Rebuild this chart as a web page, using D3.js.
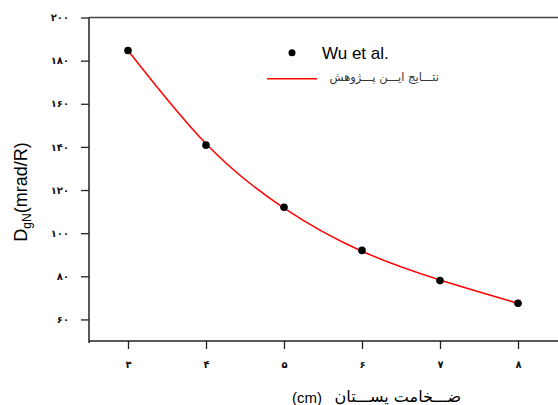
<!DOCTYPE html>
<html>
<head>
<meta charset="utf-8">
<script src="https://cdn.jsdelivr.net/npm/d3@7"></script>
<style>
  body { margin: 0; background: #fff; }
  svg { display: block; }
</style>
</head>
<body>
<div id="drawing_region"></div>
<script>
// thickness (cm) and dose values
const thickness = [3, 4, 5, 6, 7, 8];
const wuValues = [184.7, 140.8, 112, 92, 78, 67.5];
const fitValues = [184.7, 141.5, 111.6, 91.6, 78.3, 67.5];

const yTicks = [60, 80, 100, 120, 140, 160, 180, 200];
const xTicks = [3, 4, 5, 6, 7, 8];
const legendLabels = ["Wu et al.", "نتـــایج ایـــن پـــژوهش"];

const faDigits = "۰۱۲۳۴۵۶۷۸۹";
const toFa = n => String(n).replace(/[0-9]/g, c => faDigits[+c]);

const width = 558, height = 405;
const margin = {top: 17.5, right: 1, bottom: 64, left: 89};

const svg = d3.select('#drawing_region').append('svg')
    .attr('width', width)
    .attr('height', height);

const xscale = d3.scaleLinear()
    .domain([2.5, 8.5])
    .range([margin.left, width - margin.right]);

const yscale = d3.scaleLinear()
    .domain([50, 200])
    .range([height - margin.bottom, margin.top]);

const axisColor = '#222';

// minor ticks
const yMinor = d3.range(50, 201, 10).filter(v => v % 20 !== 0);
const xMinor = d3.range(2.5, 8.6, 1);

let xaxis = svg.append('g')
    .attr('transform', `translate(0, ${yscale(50)})`);
xaxis.call(d3.axisBottom(xscale).tickValues(xMinor).tickSize(4).tickFormat(''));
xaxis.call(d3.axisBottom(xscale).tickValues(xTicks).tickSize(8).tickFormat(toFa).tickPadding(12));
xaxis.selectAll('.domain').remove();
xaxis.append('line')
    .attr('x1', margin.left).attr('x2', width)
    .attr('stroke', axisColor).attr('stroke-width', 1.5);

let yaxis = svg.append('g')
    .attr('transform', `translate(${xscale(2.5)}, 0)`);
yaxis.call(d3.axisLeft(yscale).tickValues(yMinor).tickSize(4).tickFormat(''));
yaxis.call(d3.axisLeft(yscale).tickValues(yTicks).tickSize(8).tickFormat(toFa).tickPadding(12));
yaxis.selectAll('.domain').remove();
yaxis.append('line')
    .attr('y1', margin.top).attr('y2', yscale(50) + 2)
    .attr('stroke', axisColor).attr('stroke-width', 1.5);

svg.selectAll('.tick line').attr('stroke', axisColor).attr('stroke-width', 1.3);
svg.selectAll('.tick text')
    .attr('fill', '#111')
    .style('font-family', '"DejaVu Sans", sans-serif')
    .style('font-size', '10px')
    .style('font-weight', 'bold');

// top frame line
svg.append('line')
    .attr('x1', margin.left).attr('x2', width)
    .attr('y1', margin.top).attr('y2', margin.top)
    .attr('stroke', '#444').attr('stroke-width', 1.5);

// fitted curve
const line = d3.line()
    .x((d, i) => xscale(thickness[i]))
    .y(d => yscale(d))
    .curve(d3.curveNatural);

svg.append('path')
    .datum(fitValues)
    .attr('d', line)
    .attr('fill', 'none')
    .attr('stroke', '#ff0000')
    .attr('stroke-width', 1.5);

// data points
svg.selectAll('circle.pt')
    .data(wuValues)
    .enter().append('circle')
    .attr('class', 'pt')
    .attr('cx', (d, i) => xscale(thickness[i]))
    .attr('cy', d => yscale(d))
    .attr('r', 3.8)
    .attr('fill', '#000');

// legend
let legend = svg.append('g');
legend.append('circle')
    .attr('cx', 292).attr('cy', 52.7).attr('r', 3.5).attr('fill', '#000');
legend.append('text')
    .attr('x', 322).attr('y', 58.5)
    .style('font-family', '"Liberation Sans", Arial, sans-serif')
    .style('font-size', '17px')
    .attr('fill', '#000')
    .text(legendLabels[0]);
legend.append('line')
    .attr('x1', 267).attr('x2', 317)
    .attr('y1', 78.7).attr('y2', 78.7)
    .attr('stroke', '#ff0000').attr('stroke-width', 1.5);
legend.append('text')
    .attr('x', 439).attr('y', 80.5)
    .attr('text-anchor', 'end')
    .style('font-family', '"DejaVu Sans", sans-serif')
    .style('font-size', '11.5px')
    .attr('fill', '#333')
    .text(legendLabels[1]);

// axis titles
let ytitle = svg.append('text')
    .attr('transform', 'translate(27, 192) rotate(-90)')
    .attr('text-anchor', 'middle')
    .style('font-family', '"Liberation Sans", Arial, sans-serif')
    .style('font-size', '18px')
    .attr('fill', '#000');
ytitle.append('tspan').text('D');
ytitle.append('tspan').attr('dy', 4).style('font-size', '12px').text('gN');
ytitle.append('tspan').attr('dy', -4).text('(mrad/R)');

svg.append('text')
    .attr('x', 292).attr('y', 403)
    .style('font-family', '"Liberation Sans", Arial, sans-serif')
    .style('font-size', '15px')
    .attr('fill', '#000')
    .text('(cm)');
svg.append('text')
    .attr('x', 461).attr('y', 402)
    .attr('text-anchor', 'end')
    .style('font-family', '"DejaVu Sans", sans-serif')
    .style('font-size', '16px')
    .attr('fill', '#000')
    .text('ضـــخامت پســـتان');
</script>
</body>
</html>
